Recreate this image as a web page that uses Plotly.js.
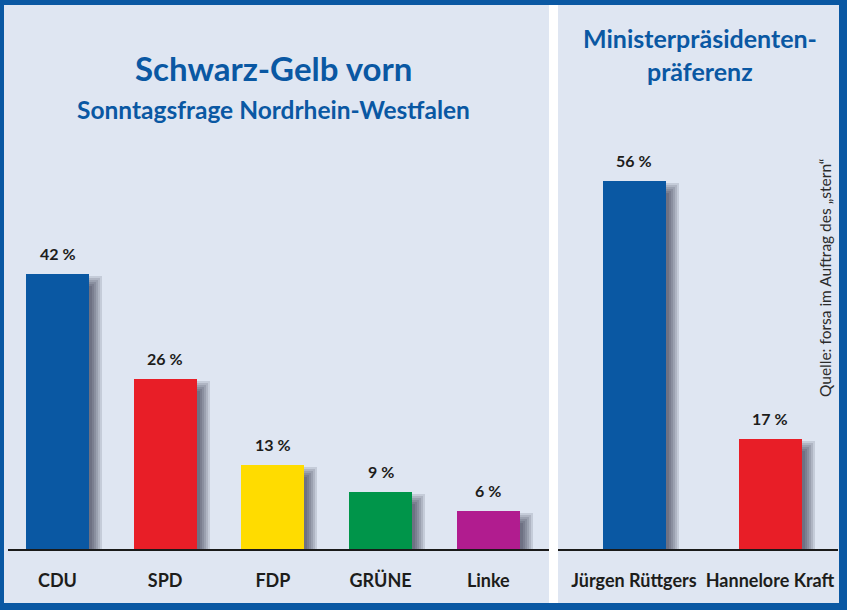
<!DOCTYPE html>
<html>
<head>
<meta charset="utf-8">
<script src="https://cdn.plot.ly/plotly-3.0.1.min.js"></script>
<style>
  html, body { margin: 0; padding: 0; background: #0a58a3; }
  #chart { width: 847px; height: 610px; }
</style>
</head>
<body>
<div id="chart"></div>
<script>
// Sonntagsfrage NRW
var parties = ["CDU", "SPD", "FDP", "GRÜNE", "Linke"];
var partyShares = [42, 26, 13, 9, 6];
var partyColors = ["#0a58a3", "#e81e27", "#ffdc00", "#00954a", "#b11c8f"];

// Ministerpräsidentenpräferenz
var candidates = ["Jürgen Rüttgers", "Hannelore Kraft"];
var candidateShares = [56, 17];
var candidateColors = ["#0a58a3", "#e81e27"];

var W = 847, H = 610;
var BASE_PX = 551;       // pixel row of the zero line
var PX_PER_PCT = 6.6;
var BAR_PX = 63;

var blue = "#0a58a3";
var bg = "#dfe6f2";
var ink = "#1d1d1b";
var font = "Lato, 'Open Sans', sans-serif";

function px(x) { return x / W; }
function py(y) { return 1 - y / H; }

// soft drop shadow: stacked translucent bars, shifted right/down and widened
function shadowTraces(cats, vals, xa, pxPerUnit) {
  var out = [];
  [-4, -2, 0, 2, 4, 6].forEach(function (e) {
    var base = -(5 + e) / PX_PER_PCT;
    out.push({
      type: "bar",
      x: cats,
      y: vals.map(function (v) { return v - (8 - e) / PX_PER_PCT - base; }),
      base: base,
      width: (BAR_PX + 2 * e) / pxPerUnit,
      offset: (-BAR_PX / 2 + 7 - e) / pxPerUnit,
      marker: { color: "rgba(20,20,40,0.12)", line: { width: 0 } },
      xaxis: xa,
      yaxis: "y",
      hoverinfo: "skip",
      showlegend: false
    });
  });
  return out;
}

var leftUnit = 107.7, rightUnit = 136;

var traces = []
  .concat(shadowTraces(parties, partyShares, "x", leftUnit))
  .concat(shadowTraces(candidates, candidateShares, "x2", rightUnit))
  .concat([
    {
      type: "bar",
      x: parties,
      y: partyShares,
      width: BAR_PX / leftUnit,
      marker: { color: partyColors, line: { width: 0 } },
      xaxis: "x",
      yaxis: "y",
      hoverinfo: "x+y",
      showlegend: false
    },
    {
      type: "bar",
      x: candidates,
      y: candidateShares,
      width: BAR_PX / rightUnit,
      marker: { color: candidateColors, line: { width: 0 } },
      xaxis: "x2",
      yaxis: "y",
      hoverinfo: "x+y",
      showlegend: false
    }
  ]);

function valueLabels(cats, vals, xa) {
  return cats.map(function (c, i) {
    return {
      xref: xa, yref: "y", x: c, y: vals[i],
      text: vals[i] + " %",
      showarrow: false, xanchor: "center", yanchor: "bottom", yshift: 9,
      font: { family: font, size: 16, color: ink, weight: "bold" }
    };
  });
}

var annotations = [
  {
    xref: "paper", yref: "paper", x: px(273), y: py(68),
    text: "Schwarz-Gelb vorn", showarrow: false, xanchor: "center", yanchor: "middle",
    font: { family: font, size: 33, color: blue, weight: "bold" }
  },
  {
    xref: "paper", yref: "paper", x: px(273), y: py(110),
    text: "Sonntagsfrage Nordrhein-Westfalen", showarrow: false, xanchor: "center", yanchor: "middle",
    font: { family: font, size: 24.5, color: blue, weight: "bold" }
  },
  {
    xref: "paper", yref: "paper", x: px(700), y: py(38),
    text: "Ministerpräsidenten-", showarrow: false, xanchor: "center", yanchor: "middle",
    font: { family: font, size: 25, color: blue, weight: "bold" }
  },
  {
    xref: "paper", yref: "paper", x: px(700), y: py(71),
    text: "präferenz", showarrow: false, xanchor: "center", yanchor: "middle",
    font: { family: font, size: 25, color: blue, weight: "bold" }
  },
  {
    xref: "paper", yref: "paper", x: px(825), y: py(278),
    text: "Quelle: forsa im Auftrag des „stern“", showarrow: false,
    textangle: -90, xanchor: "center", yanchor: "middle",
    font: { family: font, size: 15.5, color: "#2b2b2b" }
  }
].concat(valueLabels(parties, partyShares, "x"))
 .concat(valueLabels(candidates, candidateShares, "x2"));

var shapes = [
  // panel background inside the blue frame
  { type: "rect", xref: "paper", yref: "paper", layer: "below",
    x0: px(4), x1: px(839), y0: py(603), y1: py(5),
    fillcolor: bg, line: { width: 0 } },
  // white divider
  { type: "rect", xref: "paper", yref: "paper", layer: "below",
    x0: px(549), x1: px(558), y0: py(603), y1: py(5),
    fillcolor: "#ffffff", line: { width: 0 } },
  // base lines
  { type: "line", xref: "paper", yref: "y", layer: "above",
    x0: px(8), x1: px(549), y0: 0, y1: 0,
    line: { color: "#1a1a1a", width: 4 } },
  { type: "line", xref: "paper", yref: "y", layer: "above",
    x0: px(558), x1: px(838), y0: 0, y1: 0,
    line: { color: "#1a1a1a", width: 4 } }
];

var xCommon = {
  type: "category",
  showgrid: false, zeroline: false, showline: false,
  ticks: "outside", ticklen: 13, tickcolor: "rgba(0,0,0,0)",
  tickfont: { family: font, size: 18, color: ink, weight: "bold" },
  fixedrange: true
};

var layout = {
  width: W, height: H,
  margin: { l: 0, r: 0, t: 0, b: 0, pad: 0 },
  paper_bgcolor: blue,
  plot_bgcolor: "rgba(0,0,0,0)",
  barmode: "overlay",
  bargap: 0,
  showlegend: false,
  xaxis: Object.assign({}, xCommon, {
    domain: [px(8), px(549)],
    range: [(8 - 57.5) / leftUnit, (549 - 57.5) / leftUnit],
    anchor: "y"
  }),
  xaxis2: Object.assign({}, xCommon, {
    domain: [px(558), px(838)],
    range: [(558 - 634) / rightUnit, (838 - 634) / rightUnit],
    anchor: "y"
  }),
  yaxis: {
    domain: [py(BASE_PX), 1],
    range: [0, BASE_PX / PX_PER_PCT],
    showgrid: false, zeroline: false, showline: false,
    showticklabels: false, ticks: "",
    fixedrange: true
  },
  shapes: shapes,
  annotations: annotations
};

Plotly.newPlot("chart", traces, layout, { displayModeBar: false, staticPlot: true });
</script>
</body>
</html>
